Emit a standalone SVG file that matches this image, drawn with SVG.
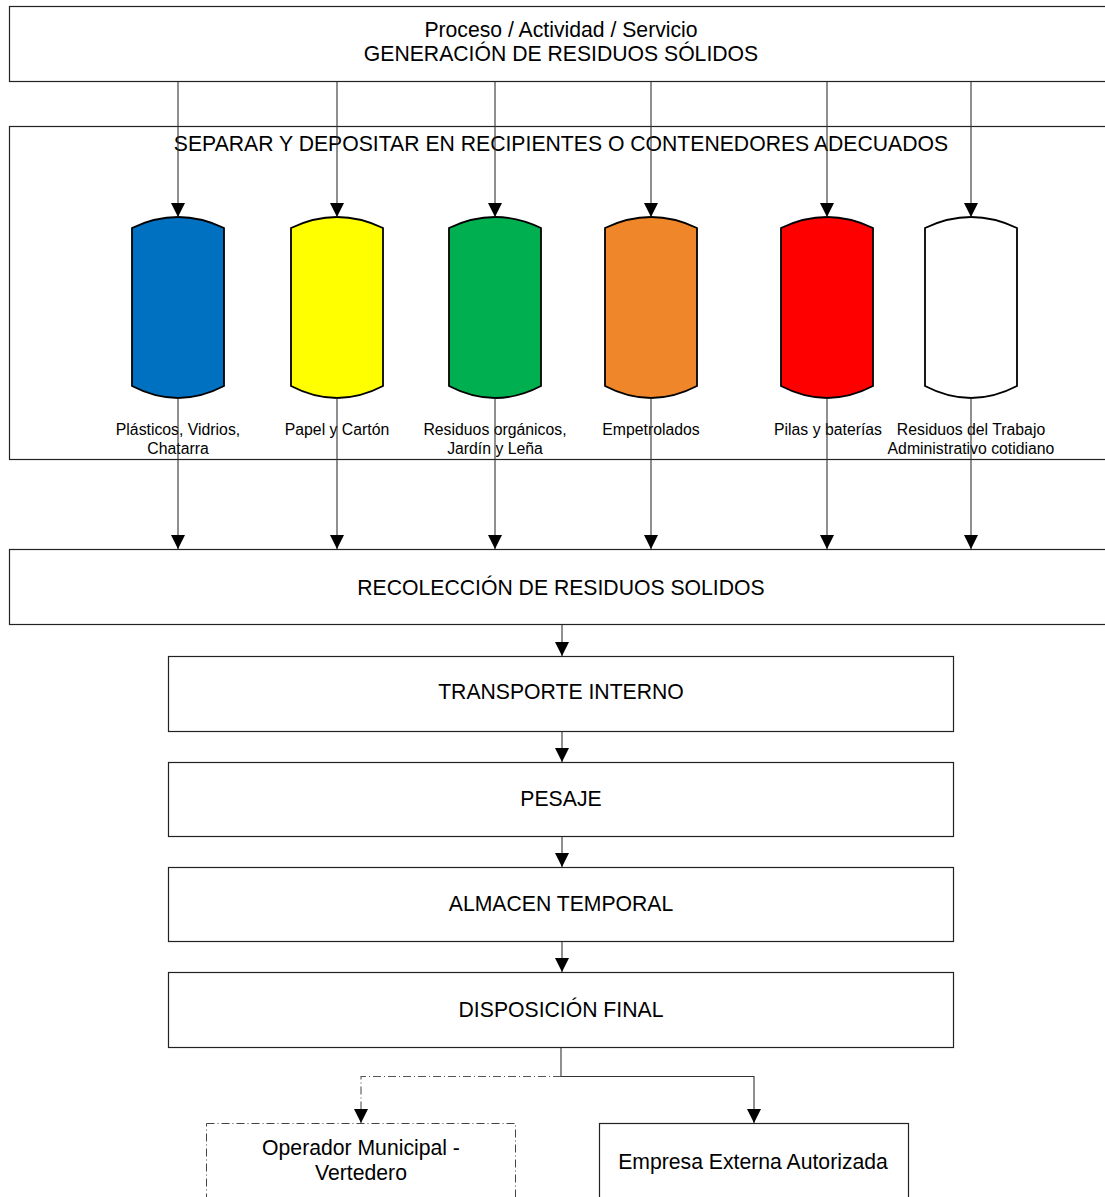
<svg xmlns="http://www.w3.org/2000/svg" width="1105" height="1197" viewBox="0 0 1105 1197">
<defs>
<style>
.box{fill:#fff;stroke:#222;stroke-width:1.2}
.dbox{fill:#fff;stroke:#444;stroke-width:1;stroke-dasharray:8 3 1 3}
.cyl{stroke:#000;stroke-width:1.8}
.t{font-family:"Liberation Sans",Arial,sans-serif;font-size:21.2px;fill:#000;text-anchor:middle}
.s{font-family:"Liberation Sans",Arial,sans-serif;font-size:15.8px;fill:#000;text-anchor:middle}
.c{fill:none;stroke:#333;stroke-width:1.1}
.cd{fill:none;stroke:#555;stroke-width:1.1;stroke-dasharray:8 3 1 3}
</style>
<marker id="ah" viewBox="0 0 14 14" refX="14" refY="7" markerWidth="14" markerHeight="14" markerUnits="userSpaceOnUse" orient="auto">
<path d="M0,0 L14,7 L0,14 Z" fill="#000"/>
</marker>
</defs>
<rect width="1105" height="1197" fill="#fff"/>

<g id="generacion">
<rect class="box" x="9.5" y="6.5" width="1105" height="75"/>
<text class="t" x="561" y="37">Proceso / Actividad / Servicio</text>
<text class="t" x="561" y="61">GENERACIÓN DE RESIDUOS SÓLIDOS</text>
</g>

<g id="separar">
<rect class="box" x="9.5" y="126.5" width="1105" height="333"/>
<text class="t" x="561" y="151">SEPARAR Y DEPOSITAR EN RECIPIENTES O CONTENEDORES ADECUADOS</text>
</g>

<g id="recoleccion">
<rect class="box" x="9.5" y="549.5" width="1105" height="75"/>
<text class="t" x="561" y="595">RECOLECCIÓN DE RESIDUOS SOLIDOS</text>
</g>

<g id="transporte">
<rect class="box" x="168.5" y="656.5" width="785" height="75"/>
<text class="t" x="561" y="699">TRANSPORTE INTERNO</text>
</g>

<g id="pesaje">
<rect class="box" x="168.5" y="762.5" width="785" height="74"/>
<text class="t" x="561" y="806">PESAJE</text>
</g>

<g id="almacen">
<rect class="box" x="168.5" y="867.5" width="785" height="74"/>
<text class="t" x="561" y="911">ALMACEN TEMPORAL</text>
</g>

<g id="disposicion">
<rect class="box" x="168.5" y="972.5" width="785" height="75"/>
<text class="t" x="561" y="1017">DISPOSICIÓN FINAL</text>
</g>

<g id="operador">
<rect class="dbox" x="206.5" y="1123.5" width="309" height="90"/>
<text class="t" x="361" y="1155">Operador Municipal -</text>
<text class="t" x="361" y="1180">Vertedero</text>
</g>

<g id="empresa">
<rect class="box" x="599.5" y="1123.5" width="309" height="90"/>
<text class="t" x="753" y="1169">Empresa Externa Autorizada</text>
</g>

<g id="cyl-plasticos">
<path class="cyl" fill="#0070C0" d="M132,228 Q178,206 224,228 L224,386 Q178,410 132,386 Z"/>
<text class="s" x="178" y="435">Plásticos, Vidrios,</text>
<text class="s" x="178" y="454">Chatarra</text>
</g>
<g id="cyl-papel">
<path class="cyl" fill="#FFFF00" d="M291,228 Q337,206 383,228 L383,386 Q337,410 291,386 Z"/>
<text class="s" x="337" y="435">Papel y Cartón</text>
</g>
<g id="cyl-organicos">
<path class="cyl" fill="#00B050" d="M449,228 Q495,206 541,228 L541,386 Q495,410 449,386 Z"/>
<text class="s" x="495" y="435">Residuos orgánicos,</text>
<text class="s" x="495" y="454">Jardín y Leña</text>
</g>
<g id="cyl-empetrolados">
<path class="cyl" fill="#F0862A" d="M605,228 Q651,206 697,228 L697,386 Q651,410 605,386 Z"/>
<text class="s" x="651" y="435">Empetrolados</text>
</g>
<g id="cyl-pilas">
<path class="cyl" fill="#FF0000" d="M781,228 Q827,206 873,228 L873,386 Q827,410 781,386 Z"/>
<text class="s" x="828" y="435">Pilas y baterías</text>
</g>
<g id="cyl-administrativo">
<path class="cyl" fill="#FFFFFF" d="M925,228 Q971,206 1017,228 L1017,386 Q971,410 925,386 Z"/>
<text class="s" x="971" y="435">Residuos del Trabajo</text>
<text class="s" x="971" y="454">Administrativo cotidiano</text>
</g>

<g id="connectors">
<path class="c" d="M178,82 V217" marker-end="url(#ah)"/>
<path class="c" d="M337,82 V217" marker-end="url(#ah)"/>
<path class="c" d="M495,82 V217" marker-end="url(#ah)"/>
<path class="c" d="M651,82 V217" marker-end="url(#ah)"/>
<path class="c" d="M827,82 V217" marker-end="url(#ah)"/>
<path class="c" d="M971,82 V217" marker-end="url(#ah)"/>
<path class="c" d="M178,398 V549" marker-end="url(#ah)"/>
<path class="c" d="M337,398 V549" marker-end="url(#ah)"/>
<path class="c" d="M495,398 V549" marker-end="url(#ah)"/>
<path class="c" d="M651,398 V549" marker-end="url(#ah)"/>
<path class="c" d="M827,398 V549" marker-end="url(#ah)"/>
<path class="c" d="M971,398 V549" marker-end="url(#ah)"/>
<path class="c" d="M562,625 V656" marker-end="url(#ah)"/>
<path class="c" d="M562,732 V762" marker-end="url(#ah)"/>
<path class="c" d="M562,837 V867" marker-end="url(#ah)"/>
<path class="c" d="M562,942 V972" marker-end="url(#ah)"/>
<path class="c" d="M561,1048 V1076.5 H754 V1123" marker-end="url(#ah)"/>
<path class="cd" d="M561,1076.5 H361 V1123" marker-end="url(#ah)"/>
</g>
</svg>
